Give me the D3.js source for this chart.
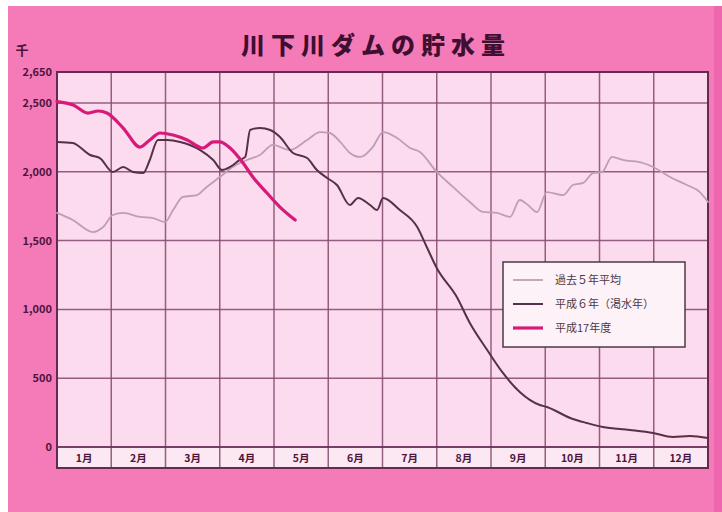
<!DOCTYPE html>
<html>
<head>
<meta charset="utf-8">
<script src="https://cdn.jsdelivr.net/npm/d3@7"></script>
<style>
  html, body { margin: 0; padding: 0; background: #ffffff; }
  svg { display: block; }
  text { font-family: "Noto Sans CJK JP", "Noto Sans", sans-serif; }
</style>
</head>
<body>
<svg id="chart" width="722" height="512"></svg>
<script>
// ---- data ----
const title = "川下川ダムの貯水量";
const unitLabel = "千";
const months = ["1月","2月","3月","4月","5月","6月","7月","8月","9月","10月","11月","12月"];
const yTicks = [0, 500, 1000, 1500, 2000, 2500, 2650];
const seriesNames = ["過去５年平均", "平成６年（渇水年）", "平成17年度"];

// [month position (0 = 1 Jan, 12 = 31 Dec), storage (千m³)]
const avg5 = [[0,1701],[0.29,1650],[0.66,1562],[0.85,1599],[1.03,1686],[1.22,1701],[1.53,1672],[1.77,1664],[1.99,1635],[2.14,1722],[2.32,1817],[2.58,1831],[2.76,1890],[3.0,1962],[3.24,2035],[3.5,2086],[3.74,2122],[3.98,2195],[4.29,2158],[4.61,2231],[4.85,2289],[5.03,2282],[5.22,2217],[5.4,2137],[5.59,2108],[5.82,2180],[6.01,2289],[6.27,2246],[6.51,2173],[6.69,2144],[7.0,1999],[7.3,1890],[7.61,1781],[7.85,1708],[8.11,1701],[8.35,1672],[8.53,1795],[8.68,1759],[8.85,1708],[9.03,1853],[9.33,1831],[9.51,1904],[9.7,1919],[9.88,1991],[10.05,1999],[10.23,2108],[10.43,2086],[10.8,2064],[10.99,2035],[11.3,1962],[11.61,1904],[11.85,1853],[12,1781]];
const h6 = [[0,2217],[0.29,2209],[0.61,2122],[0.79,2100],[1.03,1999],[1.22,2035],[1.4,1999],[1.59,1991],[1.71,2086],[1.86,2231],[2.03,2231],[2.27,2217],[2.64,2158],[2.88,2086],[3.04,2013],[3.19,2035],[3.37,2086],[3.47,2108],[3.56,2304],[3.74,2318],[3.93,2304],[4.11,2253],[4.35,2137],[4.61,2100],[4.79,2013],[4.98,1955],[5.16,1904],[5.4,1759],[5.55,1810],[5.77,1759],[5.9,1722],[6.01,1810],[6.32,1722],[6.64,1599],[6.82,1450],[7.0,1301],[7.37,1090],[7.61,901],[7.93,705],[8.22,538],[8.53,400],[8.9,305],[9.03,291],[9.46,211],[9.77,174],[10.06,145],[10.56,124],[10.99,102],[11.35,73],[11.67,80],[12,65]];
const h17 = [[0,2507],[0.3,2485],[0.57,2427],[0.76,2442],[0.92,2427],[1.22,2318],[1.53,2180],[1.71,2231],[1.9,2282],[2.14,2267],[2.4,2231],[2.69,2173],[2.88,2217],[3.0,2217],[3.19,2173],[3.43,2064],[3.61,1962],[3.87,1846],[4.11,1744],[4.39,1650]];

// ---- layout ----
const svg = d3.select("#chart");
const L = 57, R = 708, T = 72, B = 447, BAND = 468;
const x = d3.scaleLinear().domain([0, 12]).range([L, R]);
const y = d3.scaleLinear().domain([0, 2500, 2650]).range([B, 103, T]);

const C = {
  outer: "#f47bb8",
  stripe: "#ee66ae",
  plot: "#fcdbee",
  band: "#fbe8f3",
  grid: "#84496f",
  frame: "#652a53",
  text: "#4e143c",
  avg: "#bf9db4",
  h6: "#553049",
  h17: "#d8197a"
};

svg.append("rect").attr("x", 8).attr("y", 6).attr("width", 714).attr("height", 506).attr("fill", C.outer);
svg.append("rect").attr("x", 714).attr("y", 6).attr("width", 8).attr("height", 506).attr("fill", C.stripe);

svg.append("rect").attr("x", L).attr("y", T).attr("width", R - L).attr("height", B - T).attr("fill", C.plot);
svg.append("rect").attr("x", L).attr("y", B).attr("width", R - L).attr("height", BAND - B).attr("fill", C.band);

// title
svg.append("text").attr("x", 376).attr("y", 54).attr("text-anchor", "middle")
  .attr("font-size", 24).attr("font-weight", 900).attr("letter-spacing", 6)
  .attr("fill", "#3e0f30").text(title);

// horizontal grid
svg.append("g").selectAll("line").data(yTicks).join("line")
  .attr("x1", L).attr("x2", R)
  .attr("y1", d => y(d)).attr("y2", d => y(d))
  .attr("stroke", C.grid).attr("stroke-width", 1.5).attr("opacity", 0.85);

// vertical grid (month boundaries)
svg.append("g").selectAll("line").data(d3.range(1, 12)).join("line")
  .attr("x1", d => x(d)).attr("x2", d => x(d))
  .attr("y1", T).attr("y2", BAND)
  .attr("stroke", C.grid).attr("stroke-width", 1.5).attr("opacity", 0.85);

// y axis labels
const yAxis = d3.axisLeft(y).tickValues(yTicks).tickFormat(d3.format(",")).tickSize(0).tickPadding(5);
const gy = svg.append("g").attr("transform", `translate(${L},0)`).call(yAxis);
gy.select(".domain").remove();
gy.selectAll("text").attr("font-size", 11).attr("font-weight", 700).attr("fill", C.text)
  .style("font-family", "'Noto Sans CJK JP', sans-serif");

svg.append("text").attr("x", 22).attr("y", 55).attr("text-anchor", "middle")
  .attr("font-size", 13).attr("font-weight", 700).attr("fill", C.text).text(unitLabel);

// month labels
const xb = d3.scaleBand().domain(months).range([L, R]);
svg.append("g").selectAll("text").data(months).join("text")
  .attr("x", d => xb(d) + xb.bandwidth() / 2).attr("y", 462)
  .attr("text-anchor", "middle").attr("font-size", 10.5).attr("font-weight", 700)
  .attr("fill", C.text).text(d => d);

// frame
svg.append("rect").attr("x", L).attr("y", T).attr("width", R - L).attr("height", BAND - T)
  .attr("fill", "none").attr("stroke", C.frame).attr("stroke-width", 2);
svg.append("line").attr("x1", L).attr("x2", R).attr("y1", B).attr("y2", B)
  .attr("stroke", C.frame).attr("stroke-width", 1.6);

// lines
const line = d3.line().x(d => x(d[0])).y(d => y(d[1])).curve(d3.curveMonotoneX);
const series = [
  { name: seriesNames[0], data: avg5, color: C.avg, width: 1.8 },
  { name: seriesNames[1], data: h6, color: C.h6, width: 2 },
  { name: seriesNames[2], data: h17, color: C.h17, width: 3.2 }
];
svg.append("g").selectAll("path").data(series).join("path")
  .attr("d", d => line(d.data)).attr("fill", "none")
  .attr("stroke", d => d.color).attr("stroke-width", d => d.width)
  .attr("stroke-linejoin", "round").attr("stroke-linecap", "round");

// legend
const lg = svg.append("g").attr("transform", "translate(503,262)");
lg.append("rect").attr("width", 182).attr("height", 85)
  .attr("fill", "#fdf2f8").attr("stroke", "#4a3a44").attr("stroke-width", 1.5);
const li = lg.selectAll("g").data(series).join("g")
  .attr("transform", (d, i) => `translate(0,${18 + i * 24})`);
li.append("line").attr("x1", 10).attr("x2", 40).attr("y1", 0).attr("y2", 0)
  .attr("stroke", d => d.color).attr("stroke-width", d => d.width);
li.append("text").attr("x", 52).attr("y", 4).attr("font-size", 11).attr("fill", "#4a3a44").text(d => d.name);
</script>
</body>
</html>
